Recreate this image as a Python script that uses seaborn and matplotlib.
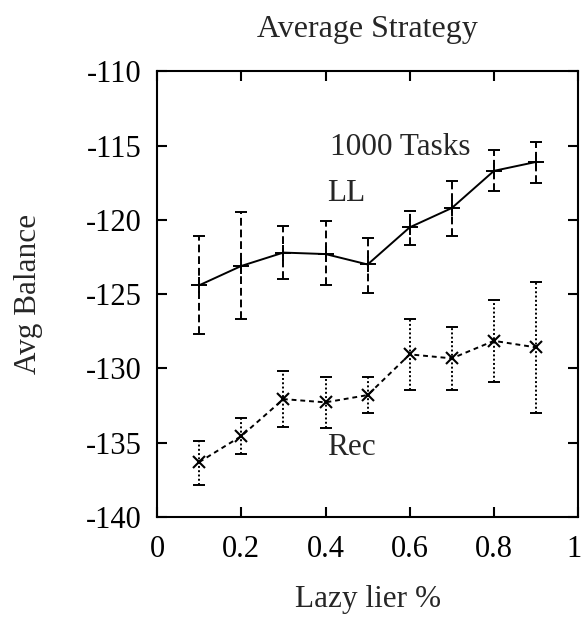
import matplotlib
matplotlib.use("Agg")
import matplotlib.pyplot as plt
import matplotlib.transforms as mtransforms
import seaborn as sns
import pandas as pd

# data
lazy = [0.1, 0.2, 0.3, 0.4, 0.5, 0.6, 0.7, 0.8, 0.9]
ll_mean = [-124.4, -123.1, -122.2, -122.3, -123.0, -120.5, -119.2, -116.7, -116.1]
ll_hi = [-121.1, -119.5, -120.4, -120.1, -121.25, -119.4, -117.4, -115.3, -114.75]
ll_lo = [-127.7, -126.7, -124.0, -124.4, -124.95, -121.7, -121.1, -118.05, -117.5]
rec_mean = [-136.3, -134.55, -132.06, -132.28, -131.79, -129.05, -129.32, -128.14, -128.58]
rec_hi = [-134.86, -133.36, -130.17, -130.56, -130.56, -126.68, -127.2, -125.4, -124.2]
rec_lo = [-137.84, -135.78, -133.92, -133.99, -133.02, -131.45, -131.45, -130.94, -132.98]
xticks = [0, 0.2, 0.4, 0.6, 0.8, 1]
xtick_labels = ['0', '0.2', '0.4', '0.6', '0.8', '1']

sns.set_style("ticks")
plt.rcParams['font.family'] = ['Liberation Serif', 'DejaVu Serif']
plt.rcParams['axes.unicode_minus'] = False

fig = plt.figure(figsize=(5.84, 6.2), dpi=100)
ax = fig.add_axes([0.269, 0.166, 0.721, 0.719])

df = pd.DataFrame({"x": lazy, "ll": ll_mean, "rec": rec_mean})

# error bars first, drawn under the lines
def errbars(mean, lo, hi, ls):
    yerr = [[m - l for m, l in zip(mean, lo)], [h - m for m, h in zip(mean, hi)]]
    eb = ax.errorbar(lazy, mean, yerr=yerr, fmt='none', ecolor='black',
                     elinewidth=1.4, capsize=4, capthick=1.4)
    eb[2][0].set_linestyle(ls)

errbars(ll_mean, ll_lo, ll_hi, (0, (4, 2)))
errbars(rec_mean, rec_lo, rec_hi, (0, (1, 1.2)))

sns.lineplot(data=df, x="x", y="ll", ax=ax, color='black', linewidth=1.4,
             marker='+', markersize=11, markeredgewidth=1.4, markeredgecolor='black')
sns.lineplot(data=df, x="x", y="rec", ax=ax, color='black', linewidth=1.4,
             linestyle=(0, (2.5, 2)), marker='x', markersize=9, markeredgewidth=1.5,
             markeredgecolor='black')

ax.set_xlim(0, 1)
ax.set_ylim(-140, -110)
ax.set_xticks(xticks)
ax.set_xticklabels(xtick_labels)
ax.set_yticks(range(-140, -109, 5))
ax.tick_params(direction='in', top=True, right=True, length=7, width=1.5,
               labelsize=22, colors='black')
ax.tick_params(axis='x', pad=13)
ax.tick_params(axis='y', pad=11)
for s in ax.spines.values():
    s.set_linewidth(1.5)
    s.set_color('black')

# last x label sits on the figure edge, nudge it in a little
last = ax.get_xticklabels()[-1]
last.set_transform(last.get_transform() +
                   mtransforms.ScaledTranslation(-4 / 100, 0, fig.dpi_scale_trans))

ax.text(0.411, -115.65, '1000 Tasks', fontsize=22.5, ha='left', va='baseline')
ax.text(0.404, -118.74, 'LL', fontsize=22.5, ha='left', va='baseline')
ax.text(0.404, -135.82, 'Rec', fontsize=22.5, ha='left', va='baseline')

ax.set_title('Average Strategy', fontsize=23, pad=25)
ax.set_xlabel('Lazy lier %', fontsize=22.5)
ax.set_ylabel('Avg Balance', fontsize=22.5)
ax.xaxis.set_label_coords(0.5, -0.152)
ax.yaxis.set_label_coords(-0.27, 0.5)

fig.savefig('out.png', dpi=100)
